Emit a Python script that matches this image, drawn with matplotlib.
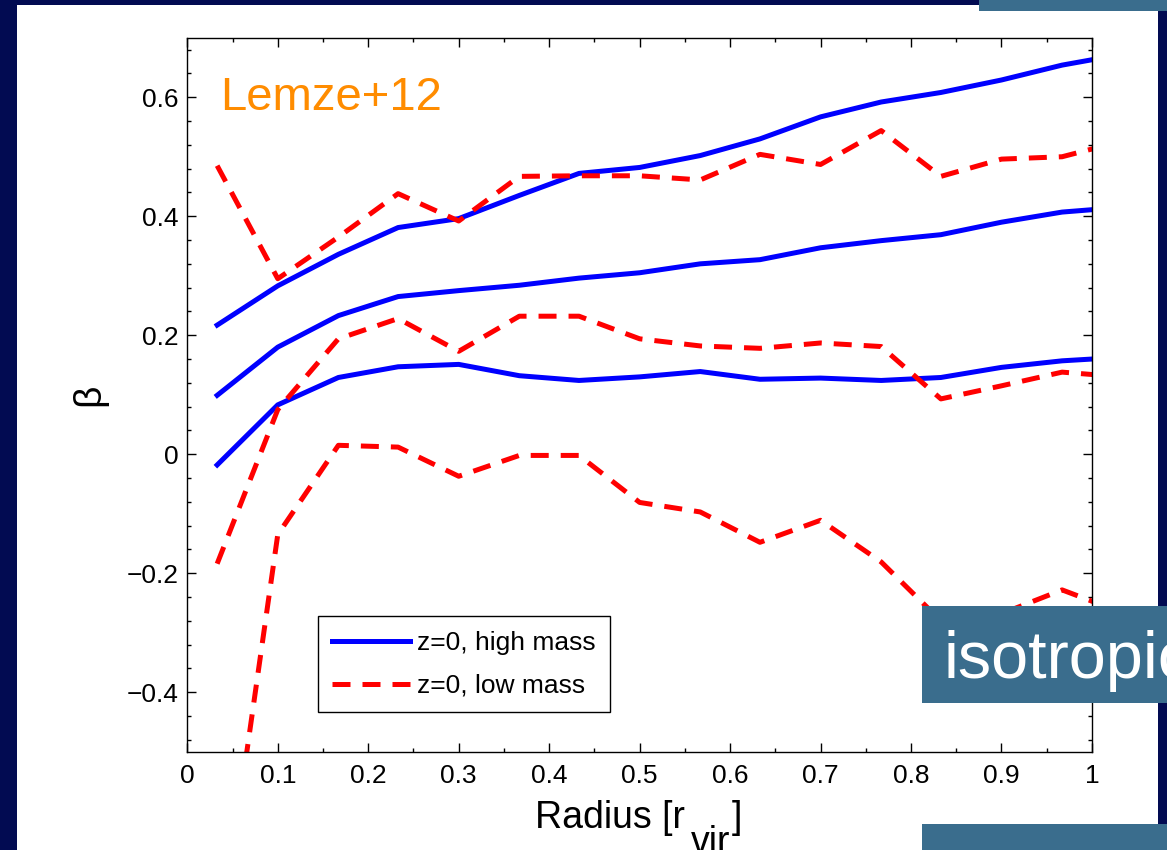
import matplotlib
matplotlib.use("Agg")
import matplotlib.pyplot as plt
from matplotlib.patches import Rectangle
from matplotlib.ticker import MultipleLocator, FuncFormatter

plt.rcParams['font.family'] = ['Liberation Sans', 'DejaVu Sans']

# radius bins [r_vir]
radius = [0.033, 0.1, 0.167, 0.233, 0.3, 0.367, 0.433, 0.5,
          0.567, 0.633, 0.7, 0.767, 0.833, 0.9, 0.967, 1.033]

# z=0, high mass (three curves)
high_upper = [0.217, 0.283, 0.336, 0.381, 0.396, 0.435, 0.472, 0.482,
              0.502, 0.530, 0.567, 0.592, 0.608, 0.629, 0.654, 0.672]
high_mid = [0.099, 0.180, 0.233, 0.265, 0.275, 0.284, 0.296, 0.305,
            0.320, 0.327, 0.347, 0.359, 0.369, 0.390, 0.407, 0.415]
high_lower = [-0.018, 0.083, 0.129, 0.147, 0.151, 0.132, 0.124, 0.130,
              0.139, 0.126, 0.128, 0.124, 0.129, 0.146, 0.157, 0.163]

# z=0, low mass (three curves)
low_upper = [0.485, 0.295, 0.365, 0.438, 0.392, 0.467, 0.468, 0.468,
             0.461, 0.504, 0.487, 0.544, 0.467, 0.496, 0.500, 0.526]
low_mid = [-0.184, 0.075, 0.194, 0.228, 0.173, 0.232, 0.232, 0.194,
           0.182, 0.178, 0.187, 0.181, 0.093, 0.115, 0.138, 0.130]
low_lower = [-0.85, -0.135, 0.015, 0.012, -0.037, -0.002, -0.002, -0.081,
             -0.097, -0.148, -0.111, -0.181, -0.280, -0.268, -0.228, -0.266]

navy = '#020b52'
boxblue = '#3a6d8d'

fig = plt.figure(figsize=(11.67, 8.5), dpi=100, facecolor=navy)

# white slide panel, behind the axes
fig.patches.append(Rectangle((17 / 1167, 0), (1158 - 17) / 1167, 1 - 5 / 850,
                             transform=fig.transFigure, facecolor='white',
                             edgecolor='none', zorder=-1))

ax = fig.add_axes([0.1605, 0.1156, 0.7752, 0.84])
ax.set_zorder(1)

lw = 3.6
ax.plot(radius, high_upper, color='#0000ff', lw=lw, label='z=0, high mass')
ax.plot(radius, high_mid, color='#0000ff', lw=lw)
ax.plot(radius, high_lower, color='#0000ff', lw=lw)
dash = (0, (3.6, 2.4))
ax.plot(radius, low_upper, color='#ff0000', lw=lw, ls=dash, label='z=0, low mass')
ax.plot(radius, low_mid, color='#ff0000', lw=lw, ls=dash)
ax.plot(radius, low_lower, color='#ff0000', lw=lw, ls=dash)

ax.set_xlim(0, 1)
ax.set_ylim(-0.5, 0.7)
ax.xaxis.set_major_locator(MultipleLocator(0.1))
ax.xaxis.set_minor_locator(MultipleLocator(0.05))
ax.yaxis.set_major_locator(MultipleLocator(0.2))
ax.yaxis.set_minor_locator(MultipleLocator(0.04))
fmt = FuncFormatter(lambda v, p: ('%g' % round(v, 3)).replace('-', '\u2212'))
ax.xaxis.set_major_formatter(fmt)
ax.yaxis.set_major_formatter(fmt)
ax.tick_params(which='both', direction='in', top=True, right=True,
               width=1.0, labelsize=19)
ax.tick_params(which='major', length=6.5)
ax.tick_params(which='minor', length=3.2)
ax.tick_params(axis='x', pad=9)
ax.tick_params(axis='y', pad=6)
for s in ax.spines.values():
    s.set_linewidth(1.0)

# x label "Radius [r vir]" with the MATLAB-style low subscript
t1 = ax.text(0.3845, -0.107, 'Radius [r', transform=ax.transAxes,
             fontsize=27, ha='left', va='baseline', clip_on=False)
t2 = ax.annotate('vir', xy=(1, 0), xycoords=t1, xytext=(4, -12),
                 textcoords='offset points', fontsize=27, ha='left',
                 va='baseline', annotation_clip=False)
t3 = ax.annotate(']', xy=(1, 0), xycoords=(t2, t1), xytext=(1.5, 0),
                 textcoords='offset points', fontsize=27, ha='left',
                 va='bottom', annotation_clip=False)

ax.set_ylabel('\u03b2', fontsize=28, labelpad=14)

ax.text(0.036, 0.578, 'Lemze+12', color='#ff8c00', fontsize=34,
        transform=ax.transData, ha='left', va='baseline')

leg = ax.legend(loc='lower left', bbox_to_anchor=(0.144, 0.055),
                borderaxespad=0, fontsize=19, fancybox=False,
                edgecolor='black', framealpha=1, handlelength=2.95,
                handletextpad=0.27, borderpad=0.55, labelspacing=0.72)
leg.get_frame().set_linewidth(1.0)

# overlaid slide boxes (above the axes)
fig.patches.append(Rectangle((979 / 1167, 1 - 11 / 850), (1167 - 979) / 1167, 11 / 850,
                             transform=fig.transFigure, facecolor=boxblue,
                             edgecolor='none', zorder=5))
fig.patches.append(Rectangle((922 / 1167, 1 - 703 / 850), (1167 - 922) / 1167,
                             (703 - 606) / 850, transform=fig.transFigure,
                             facecolor=boxblue, edgecolor='none', zorder=5))
fig.patches.append(Rectangle((922 / 1167, 0), (1167 - 922) / 1167, 26 / 850,
                             transform=fig.transFigure, facecolor=boxblue,
                             edgecolor='none', zorder=5))
fig.text(943 / 1167, 1 - 678 / 850, 'isotropic', color='white', fontsize=48,
         ha='left', va='baseline', zorder=6)

fig.savefig('out.png', dpi=100, facecolor=navy)
